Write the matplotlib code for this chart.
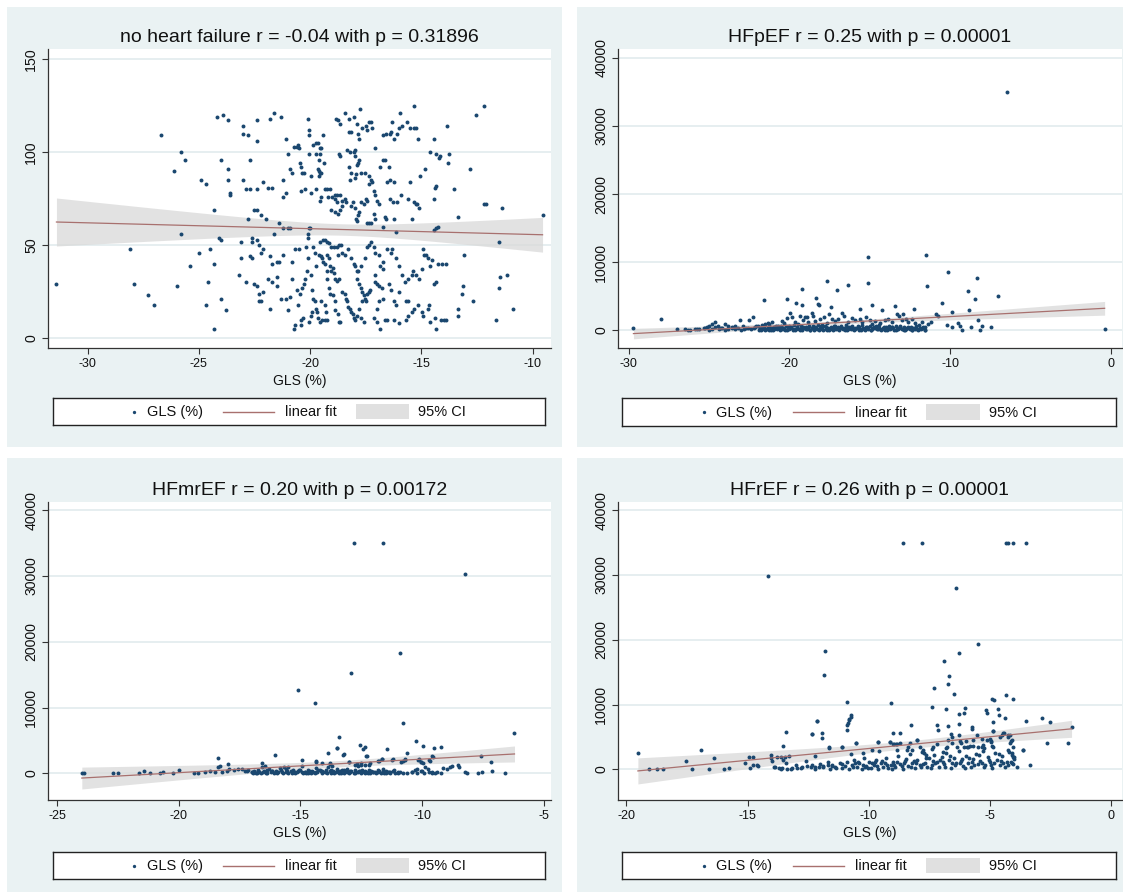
"""
GLS (%) versus NT-proBNP by heart failure group, four scatter panels
with a linear fit and its 95% confidence band (Stata look).
"""

import numpy as np
import matplotlib.pyplot as plt
from matplotlib.patches import Rectangle

plt.rcParams['font.family'] = ['Liberation Sans', 'DejaVu Sans']

BG = '#eaf2f3'
NAVY = '#1a476f'
FIT = '#a8706e'
CI = '#d9d9d9'

# ---- data: (GLS %, value) ----
nohf_pts = [
    (-31.4, 29), (-28.1, 48), (-27.9, 29), (-27.3, 23), (-27.0, 18), (-26.7, 109), (-26.1, 90),
    (-26.0, 28), (-25.8, 100), (-25.8, 56), (-25.6, 96), (-25.4, 39), (-25.0, 46), (-24.9, 85),
    (-24.7, 83), (-24.7, 18), (-24.6, 30), (-24.5, 48), (-24.3, 5), (-24.3, 69), (-24.3, 40),
    (-24.2, 119), (-24.1, 54), (-24.0, 96), (-24.0, 21), (-24.0, 53), (-23.8, 15), (-23.9, 120),
    (-23.7, 117), (-23.7, 91), (-23.7, 85), (-23.6, 77), (-23.6, 78),
    (-23.2, 34), (-23.1, 43), (-23.1, 52), (-23.0, 114), (-23.0, 85), (-23.0, 110), (-22.9, 30),
    (-22.9, 80), (-22.8, 64), (-22.8, 109), (-22.7, 96), (-22.7, 80), (-22.7, 44), (-22.6, 43),
    (-22.6, 52), (-22.6, 54), (-22.5, 69), (-22.5, 29), (-22.4, 28), (-22.4, 117), (-22.4, 80),
    (-22.4, 53), (-22.4, 106), (-22.4, 69), (-22.3, 24), (-22.3, 50), (-22.3, 20), (-22.2, 20),
    (-22.2, 46), (-22.2, 66), (-22.1, 25), (-22.1, 84), (-22.1, 48), (-22.0, 64), (-21.9, 32),
    (-21.9, 81), (-21.8, 118), (-21.8, 44), (-21.8, 16), (-21.7, 40), (-21.7, 30), (-21.7, 81),
    (-21.6, 121), (-21.6, 56), (-21.5, 33), (-21.5, 28), (-21.5, 41), (-21.4, 62), (-21.4, 41),
    (-21.3, 21), (-21.3, 119), (-21.2, 85), (-21.2, 59), (-21.2, 45), (-21.2, 76), (-21.1, 78),
    (-21.1, 21), (-21.1, 107), (-21.0, 59), (-21.0, 99), (-21.0, 15), (-20.9, 59), (-20.9, 91),
    (-20.9, 22), (-20.8, 32), (-20.8, 41), (-20.8, 89), (-20.7, 103), (-20.7, 5), (-20.6, 103),
    (-20.6, 26), (-20.5, 102),
    (-20.09, 118), (-20.06, 112), (-20.03, 109), (-20.55, 104), (-20.45, 94), (-20.42, 92),
    (-20.37, 89), (-20.06, 99), (-19.88, 104), (-19.73, 105), (-19.64, 105), (-19.55, 102),
    (-19.49, 102), (-19.43, 109), (-19.73, 99), (-19.61, 96), (-19.55, 99), (-19.64, 91),
    (-19.61, 90), (-19.55, 89), (-19.49, 89), (-19.58, 87), (-19.37, 94), (-19.94, 87),
    (-20.27, 89), (-20.39, 79), (-20.21, 80), (-19.94, 78), (-19.73, 80), (-19.55, 74),
    (-19.49, 76), (-19.31, 80), (-19.22, 80), (-19.1, 80), (-19.19, 76), (-19.01, 76),
    (-18.89, 77), (-18.77, 77), (-18.65, 77),
    (-18.83, 118), (-18.74, 117), (-18.66, 115), (-18.41, 121), (-18.26, 118), (-18.03, 119),
    (-17.88, 115), (-17.76, 123), (-18.26, 111), (-18.14, 111), (-17.84, 110), (-17.78, 107),
    (-17.66, 113), (-17.48, 114), (-17.42, 112), (-17.33, 116), (-17.27, 116), (-17.21, 113),
    (-18.71, 99), (-18.65, 98), (-18.32, 101), (-18.2, 100), (-18.02, 100), (-17.96, 101),
    (-17.99, 98), (-17.81, 96), (-17.84, 94), (-17.87, 93), (-17.72, 89), (-17.54, 89),
    (-17.36, 87), (-18.26, 92), (-18.14, 89), (-17.93, 88), (-17.99, 86), (-18.2, 85),
    (-18.89, 75), (-18.77, 73), (-18.56, 74), (-18.44, 75), (-18.38, 73), (-18.56, 71),
    (-18.65, 69), (-18.74, 67), (-19.04, 69), (-18.89, 68),
    (-18.14, 71), (-17.96, 70), (-17.81, 68), (-17.84, 66), (-18.08, 73), (-17.72, 73),
    (-17.48, 75), (-17.42, 74), (-17.57, 72), (-17.06, 77), (-17.12, 79), (-17.21, 84),
    (-17.24, 85), (-17.33, 83), (-16.97, 74), (-16.91, 72),
    (-17.93, 64), (-17.87, 63), (-17.45, 62), (-17.33, 62), (-17.24, 62), (-17.12, 67),
    (-17.09, 64), (-16.64, 65), (-16.58, 64), (-16.7, 60),
    (-17.06, 102), (-16.85, 92), (-16.7, 96), (-16.61, 96), (-16.46, 92),
    (-16.7, 109), (-16.58, 110), (-16.42, 110), (-16.36, 111), (-16.3, 116), (-16.21, 107),
    (-16.09, 110), (-16.0, 113), (-15.94, 121), (-15.85, 114), (-15.64, 116), (-15.49, 113),
    (-15.33, 113), (-15.31, 125), (-15.22, 113), (-15.13, 107),
    (-16.53, 84), (-16.42, 85), (-16.21, 84), (-15.91, 77), (-16.39, 75), (-16.27, 73),
    (-16.09, 73), (-16.15, 57), (-16.21, 64), (-15.52, 84), (-15.43, 64), (-15.58, 75),
    (-15.31, 73), (-15.22, 72), (-15.19, 72), (-15.1, 70), (-15.04, 87), (-14.83, 91),
    (-14.62, 100), (-14.41, 107), (-14.35, 99), (-14.2, 97), (-14.17, 98), (-13.83, 114),
    (-13.75, 99), (-13.81, 94), (-14.35, 82), (-14.38, 81), (-14.41, 75), (-14.44, 58),
    (-14.35, 59), (-14.26, 60),
    (-20.66, 48), (-20.48, 48), (-20.18, 49), (-20.06, 59), (-20.0, 59), (-20.09, 56),
    (-20.09, 54), (-20.09, 43), (-20.12, 36), (-20.21, 32), (-20.27, 29), (-20.36, 27),
    (-20.45, 24), (-20.54, 18), (-19.88, 49), (-19.76, 46), (-19.73, 39), (-19.97, 34),
    (-19.91, 26), (-19.58, 45), (-19.52, 44), (-19.46, 43), (-19.4, 41), (-19.34, 40),
    (-19.25, 45), (-19.16, 43), (-19.1, 39), (-19.04, 36), (-18.98, 38), (-18.92, 35),
    (-18.86, 32), (-18.8, 31), (-18.71, 32), (-19.22, 36), (-19.25, 32),
    (-19.55, 52), (-19.43, 53), (-19.34, 53), (-19.22, 52), (-19.16, 51),
    (-19.04, 49), (-18.92, 49), (-18.8, 49), (-18.68, 50), (-18.59, 50), (-18.74, 45),
    (-18.56, 46), (-18.41, 45), (-18.29, 48),
    (-19.52, 20), (-19.31, 18), (-19.28, 14), (-19.16, 27), (-19.1, 24), (-18.98, 23),
    (-18.89, 20), (-18.86, 15), (-18.74, 13), (-18.71, 9), (-18.65, 9),
    (-18.56, 25), (-18.44, 24), (-18.38, 21), (-18.32, 20), (-18.29, 17), (-18.2, 16),
    (-18.14, 14), (-18.08, 13), (-18.02, 11), (-17.96, 10),
    (-19.85, 21), (-19.79, 20), (-19.73, 16), (-19.67, 14), (-19.64, 11), (-19.55, 9),
    (-19.46, 10), (-19.34, 10), (-19.25, 10), (-19.91, 14), (-19.97, 12), (-20.06, 9),
    (-20.33, 11), (-20.42, 10), (-20.39, 7), (-20.66, 7),
    (-17.84, 36), (-17.9, 32), (-17.78, 29), (-17.72, 27), (-17.66, 25), (-17.57, 23),
    (-17.51, 21), (-17.45, 24), (-17.36, 25), (-17.3, 26), (-17.48, 20), (-17.66, 20),
    (-17.81, 16), (-17.87, 12), (-17.72, 11), (-17.57, 9),
    (-18.14, 43), (-18.02, 40), (-17.96, 39), (-17.87, 36), (-17.72, 39), (-17.54, 43),
    (-17.42, 49), (-17.33, 50), (-17.24, 52), (-17.12, 49),
    (-17.06, 46), (-16.91, 45), (-16.85, 39), (-16.73, 37), (-16.7, 41), (-17.06, 34),
    (-17.09, 30), (-17.0, 29), (-16.88, 28), (-16.76, 27), (-16.7, 21), (-16.91, 20),
    (-16.97, 16), (-17.12, 11), (-16.97, 9), (-16.85, 5), (-16.64, 10), (-16.52, 10),
    (-16.24, 10), (-16.0, 8), (-15.7, 10), (-15.58, 12),
    (-16.52, 48), (-16.36, 46), (-16.3, 48), (-16.15, 43), (-16.0, 39), (-15.85, 34),
    (-15.73, 30), (-15.61, 32), (-15.43, 34), (-15.37, 36), (-15.25, 34), (-15.1, 32),
    (-14.98, 37), (-14.92, 48), (-14.86, 45), (-14.77, 45), (-14.68, 43), (-14.62, 39),
    (-14.53, 42), (-14.41, 29), (-14.35, 30), (-14.23, 40), (-14.08, 40), (-13.9, 40),
    (-16.46, 29), (-16.36, 26), (-16.21, 20), (-16.15, 18), (-16.0, 25), (-15.7, 20),
    (-15.61, 20), (-15.4, 14), (-15.34, 16), (-15.16, 18), (-14.98, 14), (-14.92, 12),
    (-14.71, 16), (-14.65, 18), (-14.62, 9), (-14.38, 11), (-14.35, 5), (-14.11, 10),
    (-13.99, 10), (-13.9, 10),
    (-13.36, 16), (-13.33, 12), (-13.15, 24), (-13.12, 28), (-13.06, 45), (-13.33, 65),
    (-13.51, 80), (-12.79, 91), (-12.67, 20), (-12.55, 120), (-12.16, 125), (-12.16, 72),
    (-12.07, 72), (-11.5, 52), (-11.38, 70), (-11.47, 33), (-11.5, 27), (-11.14, 34),
    (-10.87, 16), (-11.62, 10), (-9.55, 66),
]

hfpef_pts = [
    (-29.7, 400), (-28.0, 1720), (-27.0, 150), (-26.5, 150), (-26.3, 100), (-25.75, 250),
    (-26.2, 80), (-25.9, 200), (-25.6, 150), (-25.3, 300), (-25.0, 100), (-24.8, 250),
    (-24.6, 420), (-24.4, 180), (-24.2, 350), (-24.0, 90), (-23.8, 260), (-23.6, 480),
    (-23.4, 150), (-23.2, 320), (-23.0, 70), (-22.8, 240), (-22.6, 400), (-22.4, 130),
    (-22.2, 300), (-22.1, 560), (-21.9, 90),
    (-21.8, 310), (-21.7, 150), (-21.6, 480), (-21.5, 60), (-21.4, 260), (-21.3, 620),
    (-21.2, 140), (-21.1, 380), (-21.0, 90), (-20.9, 520), (-20.8, 230), (-20.7, 700),
    (-20.6, 110), (-20.5, 420), (-20.4, 280), (-20.3, 50), (-20.2, 600), (-20.1, 330),
    (-20.0, 170), (-19.9, 450), (-19.8, 80), (-19.7, 720), (-19.6, 260), (-19.5, 390),
    (-19.4, 130), (-19.3, 560), (-19.2, 40), (-19.1, 310), (-19.0, 480), (-18.9, 190),
    (-18.8, 650), (-18.7, 70), (-18.6, 350), (-18.5, 230), (-18.4, 510), (-18.3, 120),
    (-18.2, 780), (-18.1, 290), (-18.0, 430), (-17.9, 60), (-17.8, 600), (-17.7, 200),
    (-17.6, 370), (-17.5, 140), (-17.4, 520), (-17.3, 90), (-17.2, 690), (-17.1, 250),
    (-17.0, 410), (-16.9, 30), (-16.8, 560), (-16.7, 180), (-16.6, 340), (-16.5, 750),
    (-16.4, 110), (-16.3, 460), (-16.2, 220), (-16.1, 600), (-16.0, 70), (-15.9, 380),
    (-15.8, 270), (-15.7, 530), (-15.6, 150), (-15.5, 820), (-15.4, 320), (-15.3, 60),
    (-15.2, 480), (-15.1, 210), (-15.0, 640), (-14.9, 100), (-14.8, 400), (-14.7, 290),
    (-14.6, 560), (-14.5, 160), (-14.4, 720), (-14.3, 50), (-14.2, 350), (-14.1, 230),
    (-14.0, 500), (-13.9, 120), (-13.8, 650), (-13.7, 280), (-13.6, 420), (-13.5, 80),
    (-13.4, 580), (-13.3, 190), (-13.2, 330), (-13.1, 700), (-13.0, 140), (-12.9, 450),
    (-12.8, 60), (-12.7, 310), (-12.6, 520), (-12.5, 220), (-12.4, 90), (-12.3, 400),
    (-12.2, 160), (-12.1, 600), (-12.0, 40), (-11.9, 300), (-11.8, 180), (-11.7, 450),
    (-11.6, 100),
    (-21.75, 80), (-21.55, 220), (-21.35, 400), (-21.15, 30), (-20.95, 170), (-20.75, 330),
    (-20.55, 590), (-20.35, 200), (-20.15, 90), (-19.95, 300), (-19.75, 160), (-19.55, 540),
    (-19.35, 20), (-19.15, 420), (-18.95, 260), (-18.75, 110), (-18.55, 680), (-18.35, 380),
    (-18.15, 50), (-17.95, 240), (-17.75, 450), (-17.55, 100), (-17.35, 300), (-17.15, 580),
    (-16.95, 150), (-16.75, 390), (-16.55, 60), (-16.35, 250), (-16.15, 470), (-15.95, 130),
    (-15.75, 660), (-15.55, 40), (-15.35, 210), (-15.15, 360), (-14.95, 80), (-14.75, 540),
    (-14.55, 260), (-14.35, 130), (-14.15, 420), (-13.95, 20), (-13.75, 190), (-13.55, 330),
    (-13.35, 90), (-13.15, 480), (-12.95, 250), (-12.75, 140), (-12.55, 380), (-12.35, 30),
    (-12.15, 270), (-11.95, 130), (-11.75, 320), (-11.55, 60),
    (-21.65, 350), (-21.25, 50), (-20.85, 420), (-20.45, 150), (-20.05, 560), (-19.65, 60),
    (-19.25, 240), (-18.85, 400), (-18.45, 90), (-18.05, 560), (-17.65, 30), (-17.25, 200),
    (-16.85, 330), (-16.45, 500), (-16.05, 240), (-15.65, 100), (-15.25, 420), (-14.85, 190),
    (-14.45, 350), (-14.05, 70), (-13.65, 520), (-13.25, 260), (-12.85, 100), (-12.45, 470),
    (-12.05, 200), (-11.65, 380),
    (-25.28, 397), (-25.14, 495), (-24.99, 691), (-24.83, 887), (-24.62, 1230), (-24.45, 593),
    (-24.25, 397), (-24.0, 985), (-23.79, 593), (-23.58, 397), (-23.38, 593), (-23.07, 1475),
    (-22.86, 593), (-22.71, 397), (-22.49, 1475), (-22.28, 1965), (-22.13, 495), (-21.93, 593),
    (-21.72, 789), (-21.55, 985), (-21.35, 1083), (-21.26, 887), (-21.1, 1181), (-20.97, 495),
    (-20.85, 691), (-20.69, 397), (-20.48, 1377), (-20.31, 1083), (-20.17, 1769), (-19.96, 2553),
    (-19.86, 1965), (-19.65, 1230), (-19.48, 887), (-19.32, 2161), (-19.13, 1475), (-19.03, 1965),
    (-18.93, 1965), (-18.82, 1279), (-18.61, 2553), (-18.51, 2063), (-18.41, 1377), (-18.1, 1720),
    (-17.99, 789), (-17.83, 1965), (-17.68, 1083), (-17.54, 2455), (-17.37, 1720), (-17.17, 1377),
    (-17.0, 1720), (-16.75, 2553), (-16.59, 2063), (-16.34, 1230), (-16.13, 1769), (-15.92, 1475),
    (-15.61, 1720), (-15.47, 1230), (-15.26, 1965), (-14.99, 1475), (-14.89, 985), (-14.68, 1377),
    (-14.37, 1083), (-14.06, 1475), (-13.85, 1720), (-13.65, 1230), (-13.34, 2357), (-13.19, 2063),
    (-13.02, 1475), (-12.78, 1720), (-12.61, 1279), (-12.4, 1720), (-12.2, 1083), (-11.95, 740),
    (-11.78, 1181), (-11.58, 495), (-11.37, 887), (-11.2, 1230),
    (-15.13, 10690), (-11.51, 11030), (-10.12, 8580), (-8.32, 7750), (-17.64, 7260),
    (-15.09, 7010), (-16.33, 6620), (-17.06, 5980), (-11.47, 6570), (-19.23, 6080),
    (-8.88, 5790), (-7.02, 5050), (-8.43, 4560), (-21.61, 4415), (-20.16, 4560),
    (-19.58, 4070), (-19.23, 3680), (-18.34, 4760), (-18.24, 3925), (-18.15, 3700),
    (-17.41, 3435), (-15.61, 3190), (-14.84, 3730), (-14.26, 3040), (-13.43, 3530),
    (-12.92, 2455), (-12.25, 3190), (-10.5, 4070), (-9.92, 2650), (-8.84, 2945),
    (-8.3, 1475), (-10.9, 2355), (-10.74, 2160), (-9.5, 1080), (-9.4, 590), (-9.29, 100),
    (-8.71, 495), (-8.13, 100), (-8.0, 600), (-7.49, 495), (-10.2, 740), (-9.92, 500),
    (-6.5, 35000), (-0.4, 150),
]

hfmref_pts = [
    (-12.8, 35000), (-11.6, 35000), (-8.25, 30300), (-10.9, 18300), (-12.9, 15300),
    (-15.1, 12700), (-14.4, 10750), (-10.8, 7700), (-6.2, 6200),
    (-13.4, 5577), (-12.54, 4309), (-12.35, 4055), (-12.42, 3649), (-13.51, 3801),
    (-13.85, 3142), (-13.24, 2787), (-11.43, 3649), (-10.25, 4917), (-9.98, 4157),
    (-9.5, 3903), (-9.24, 3953), (-10.6, 3142), (-12.3, 2685), (-16.05, 2787),
    (-18.4, 2279), (-17.99, 1417), (-18.29, 1113), (-16.57, 1620), (-14.92, 2025),
    (-14.37, 1823), (-13.77, 1519), (-13.69, 1113), (-13.0, 1772), (-12.76, 1265),
    (-12.62, 1150), (-12.49, 1300), (-12.35, 1200), (-12.19, 1250), (-11.8, 1924),
    (-11.66, 2127), (-11.18, 2127), (-10.77, 1924), (-10.68, 2127), (-10.13, 2127),
    (-10.05, 1772), (-9.95, 1519), (-9.72, 2025), (-9.54, 2533), (-7.56, 2634),
    (-7.15, 1772), (-7.12, 403), (-6.6, 0), (-7.7, 0), (-7.52, 250),
    (-14.34, 1772), (-14.13, 1518), (-13.79, 1417), (-12.99, 1772), (-12.69, 1417),
    (-12.49, 1518), (-12.15, 1620), (-11.76, 1924), (-11.63, 2127), (-11.22, 2026),
    (-10.85, 1772), (-10.71, 2026), (-10.16, 2026), (-10.03, 1772), (-9.68, 1924),
    (-9.61, 2635), (-12.28, 2635), (-13.21, 2888), (-13.49, 3801),
    (-23.98, 100), (-23.88, 100), (-22.68, 100), (-22.48, 0), (-21.63, 0), (-21.44, 403),
    (-21.16, 100), (-20.77, 100), (-20.63, 250), (-20.25, 0), (-19.99, 505), (-19.36, 100),
    (-19.19, 100), (-18.92, 250), (-18.7, 403), (-18.51, 250), (-18.37, 910), (-18.23, 250),
    (-18.02, 403), (-17.93, 606), (-17.74, 505), (-17.55, 606), (-17.41, 606), (-17.28, 403),
    (-17.14, 505), (-17.0, 250), (-16.84, 100), (-16.73, 505), (-16.56, 910), (-16.46, 1113),
    (-16.35, 505), (-16.18, 403), (-16.02, 250), (-15.84, 758), (-15.69, 910), (-15.58, 606),
    (-15.49, 910), (-15.29, 505), (-15.2, 250), (-15.06, 505), (-14.92, 1113), (-14.8, 250),
    (-14.68, 505), (-14.54, 403), (-14.37, 758), (-14.26, 505), (-14.13, 403), (-13.96, 505),
    (-13.85, 910), (-13.74, 505), (-13.64, 403), (-13.51, 606), (-13.36, 403), (-13.22, 505),
    (-13.09, 606), (-12.95, 403), (-12.76, 505), (-12.62, 250), (-12.46, 505), (-12.35, 403),
    (-12.18, 505), (-12.01, 250), (-11.8, 505), (-11.6, 606), (-11.5, 403), (-11.32, 250),
    (-11.14, 505), (-10.98, 250), (-10.77, 0), (-10.43, 250), (-10.29, 505), (-10.19, 606),
    (-10.05, 403), (-9.88, 910), (-9.77, 606), (-9.61, 250), (-9.47, 100),
    (-9.13, 758), (-8.99, 606), (-8.86, 910), (-8.76, 1113), (-8.52, 1265), (-8.49, 910),
    (-8.24, 250), (-8.17, 100),
    (-17.2, 300), (-17.0, 150), (-16.9, 420), (-16.8, 80), (-16.7, 250), (-16.6, 30),
    (-16.5, 380), (-16.4, 120), (-16.3, 600), (-16.2, 200), (-16.1, 50), (-16.0, 320),
    (-15.9, 140), (-15.8, 450), (-15.7, 90), (-15.6, 260), (-15.5, 30), (-15.4, 380),
    (-15.3, 170), (-15.2, 60), (-15.1, 290), (-15.0, 480), (-14.9, 120), (-14.8, 220),
    (-14.7, 40), (-14.6, 350), (-14.5, 150), (-14.4, 80), (-14.3, 270), (-14.2, 520),
    (-14.1, 100), (-14.0, 200), (-13.9, 30), (-13.8, 410), (-13.7, 160), (-13.6, 60),
    (-13.5, 300), (-13.4, 120), (-13.3, 460), (-13.2, 20), (-13.1, 240), (-13.0, 110),
    (-12.9, 380), (-12.8, 70), (-12.7, 190), (-12.6, 310), (-12.5, 40), (-12.4, 150),
    (-12.3, 260), (-12.2, 80), (-12.1, 420), (-12.0, 130), (-11.9, 30), (-11.8, 220),
    (-11.7, 100), (-11.6, 350), (-11.5, 60), (-11.4, 180), (-11.3, 40), (-11.2, 290),
    (-11.1, 120), (-11.0, 30), (-10.9, 200), (-10.6, 80), (-10.4, 150), (-10.2, 20),
    (-10.0, 380), (-9.9, 120), (-9.7, 250), (-9.6, 40), (-9.4, 180), (-9.2, 60),
    (-16.95, 90), (-16.75, 350), (-16.55, 180), (-16.35, 40), (-16.15, 280), (-15.95, 60),
    (-15.75, 200), (-15.55, 340), (-15.35, 20), (-15.15, 160), (-14.95, 260), (-14.75, 90),
    (-14.55, 30), (-14.35, 180), (-14.15, 320), (-13.95, 140), (-13.75, 50), (-13.55, 230),
    (-13.35, 90), (-13.15, 380), (-12.95, 170), (-12.75, 30), (-12.55, 280), (-12.35, 110),
    (-12.15, 50), (-11.95, 190), (-11.75, 320), (-11.55, 20), (-11.35, 140),
]

hfref_pts = [
    (-8.6, 35000), (-7.8, 35000), (-4.36, 35000), (-4.26, 35000), (-4.04, 35000), (-3.52, 35000),
    (-14.15, 29900), (-6.4, 28000), (-5.5, 19400), (-11.8, 18200), (-6.3, 18000), (-6.9, 16800),
    (-11.85, 14600), (-6.7, 14400), (-6.75, 13100), (-7.3, 12500), (-6.5, 11600),
    (-4.91, 10800), (-4.82, 10750), (-4.36, 11484), (-4.04, 10866), (-9.08, 10196),
    (-10.88, 10454), (-10.74, 8393), (-10.74, 8032), (-10.81, 7620), (-10.88, 6848),
    (-10.91, 6074), (-12.14, 7466), (-11.94, 5559), (-11.94, 4787), (-12.35, 5405),
    (-13.41, 5765), (-13.52, 3602), (-14.79, 1850), (-7.4, 9681), (-6.81, 9269),
    (-6.03, 9423), (-6.06, 8651), (-6.3, 8600), (-5.73, 6486), (-5.76, 6178), (-5.18, 9166),
    (-5.14, 8651), (-4.66, 9320), (-4.63, 8445), (-4.38, 7878), (-4.86, 7363), (-4.89, 5920),
    (-4.86, 5850), (-4.48, 5560), (-4.16, 5302), (-4.18, 4014), (-4.11, 2211), (-4.04, 820),
    (-3.52, 7517), (-2.87, 7981), (-2.52, 7363), (-2.66, 4014), (-1.77, 4014), (-1.64, 6590),
    (-3.35, 665), (-3.63, 2984), (-7.2, 6848), (-7.16, 6074), (-6.72, 6693), (-6.61, 5456),
    (-6.3, 7003), (-6.28, 5302), (-6.2, 4117), (-6.58, 5044), (-8.27, 6796), (-8.99, 5663),
    (-8.71, 5560), (-9.12, 4271), (-8.99, 3911), (-8.86, 3911), (-8.71, 4014), (-8.3, 4014),
    (-9.63, 4271), (-10.54, 4014), (-11.11, 3396), (-11.66, 3345), (-9.88, 2984), (-8.01, 4529),
    (-7.4, 3087), (-6.83, 3241), (-6.72, 4529), (-6.0, 4323), (-5.89, 3500), (-5.69, 3602),
    (-5.48, 3500), (-5.34, 4632), (-5.31, 3757), (-5.23, 3241), (-5.0, 4632), (-4.96, 4271),
    (-4.93, 3602), (-4.52, 5302), (-4.27, 5044), (-4.11, 4529), (-4.27, 2984), (-4.11, 2468),
    (-4.0, 1953),
    (-12.21, 2061), (-11.62, 3400), (-11.11, 3400), (-10.74, 2370), (-10.52, 4018),
    (-10.22, 2576), (-9.64, 4275), (-9.56, 2885), (-9.12, 4275), (-8.96, 3915), (-8.82, 3915),
    (-8.85, 2988), (-8.43, 2988), (-8.37, 3400), (-8.23, 2988), (-8.0, 4533), (-7.88, 3400),
    (-7.78, 2988), (-7.72, 2473), (-7.64, 2215), (-7.36, 3400), (-7.2, 3915), (-6.92, 2731),
    (-6.79, 3400), (-6.58, 4121), (-6.37, 3400), (-6.24, 4430), (-6.07, 3503), (-5.96, 3400),
    (-5.82, 3606), (-5.69, 4533), (-5.55, 5306), (-5.34, 3400), (-5.14, 4533), (-4.97, 4430),
    (-4.86, 3400), (-4.59, 5048), (-4.42, 5563), (-4.24, 5306), (-4.15, 4430), (-4.04, 3503),
    (-3.63, 2988), (-12.12, 7520), (-12.34, 5460), (-10.84, 7108), (-10.8, 7726),
    (-19.52, 2468), (-19.08, 50), (-18.75, 50), (-18.49, 50), (-17.54, 1335), (-17.29, 100),
    (-16.91, 2984), (-16.57, 0), (-16.37, 1800), (-15.95, 0), (-15.76, 250),
    (-15.1, 1025), (-14.92, 1850), (-14.89, 150), (-14.79, 665), (-14.62, 665), (-14.55, 510),
    (-14.05, 2210), (-14.05, 1700), (-14.0, 1340), (-13.79, 1850), (-13.63, 1850),
    (-13.54, 1438), (-13.46, 1953), (-13.28, 2107),
    (-13.86, 407), (-13.72, 150), (-13.59, 253), (-13.38, 100), (-13.17, 200), (-12.97, 150),
    (-12.76, 300), (-12.56, 500), (-12.35, 600), (-12.21, 300), (-12.05, 407), (-11.87, 500),
    (-11.69, 665), (-11.53, 500), (-11.39, 407), (-11.11, 820),
    (-13.9, 300), (-13.6, 100), (-13.4, 900), (-13.2, 50), (-13.0, 600), (-12.8, 200),
    (-12.6, 1300), (-12.4, 400), (-12.2, 100), (-12.0, 800), (-11.9, 300), (-11.7, 1100),
    (-11.6, 50), (-11.5, 600), (-11.35, 250), (-11.2, 900), (-11.1, 150), (-11.0, 500),
    (-10.9, 1200), (-10.8, 80),
    (-10.7, 700), (-10.6, 1500), (-10.5, 300), (-10.4, 900), (-10.3, 100), (-10.2, 1800),
    (-10.1, 500), (-10.0, 1100), (-9.9, 200), (-9.8, 700), (-9.7, 1400), (-9.6, 50),
    (-9.5, 900), (-9.4, 400), (-9.3, 1700), (-9.2, 150), (-9.1, 600), (-9.0, 1200),
    (-8.9, 300), (-8.8, 2000), (-8.7, 800), (-8.6, 100), (-8.5, 1300), (-8.4, 500),
    (-8.3, 2300), (-8.2, 900), (-8.1, 200), (-8.0, 1500), (-7.9, 600), (-7.8, 2600),
    (-7.7, 1000), (-7.6, 300), (-7.5, 1800), (-7.4, 700), (-7.3, 2200), (-7.2, 1200),
    (-7.1, 400), (-7.0, 1900), (-6.9, 800), (-6.8, 2500), (-6.7, 1400), (-6.6, 200),
    (-6.5, 1700), (-6.4, 900), (-6.3, 2900), (-6.2, 1300), (-6.1, 500), (-6.0, 2100),
    (-5.9, 1000), (-5.8, 300), (-5.7, 1600), (-5.6, 2400), (-5.5, 800), (-5.4, 1300),
    (-5.3, 2800), (-5.2, 600), (-5.1, 1900), (-5.0, 1100), (-4.9, 200), (-4.8, 2500),
    (-4.7, 1500), (-4.6, 700), (-4.5, 2000), (-4.4, 400), (-4.3, 1200), (-4.2, 2700),
    (-4.1, 900), (-4.0, 1600), (-3.9, 300),
    (-10.65, 300), (-10.45, 1200), (-10.25, 600), (-10.05, 200), (-9.85, 1000), (-9.65, 500),
    (-9.45, 1300), (-9.25, 700), (-9.05, 100), (-8.85, 1100), (-8.65, 500), (-8.45, 1600),
    (-8.25, 300), (-8.05, 1000), (-7.85, 400), (-7.65, 1700), (-7.45, 200), (-7.25, 900),
    (-7.05, 1500), (-6.85, 300), (-6.65, 2000), (-6.45, 600), (-6.25, 1000), (-6.05, 250),
    (-5.85, 1800), (-5.65, 700), (-5.45, 2200), (-5.25, 400), (-5.05, 1500), (-4.85, 900),
    (-4.65, 2300), (-4.45, 1000), (-4.25, 600), (-4.05, 1900),
    (-10.55, 900), (-10.15, 300), (-9.75, 1100), (-9.35, 900), (-8.95, 700), (-8.55, 900),
    (-8.15, 1300), (-7.75, 800), (-7.35, 1300), (-6.95, 1100), (-6.55, 1000), (-6.15, 1600),
    (-5.75, 1200), (-5.35, 1000), (-4.95, 600), (-4.55, 1300), (-4.15, 1200),
]

titles = [
    "no heart failure r = -0.04 with p = 0.31896",
    "HFpEF r = 0.25 with p = 0.00001",
    "HFmrEF r = 0.20 with p = 0.00172",
    "HFrEF r = 0.26 with p = 0.00001",
]
panel_pts = [nohf_pts, hfpef_pts, hfmref_pts, hfref_pts]
x_ticks = [[-30, -25, -20, -15, -10], [-30, -20, -10, 0],
           [-25, -20, -15, -10, -5], [-20, -15, -10, -5, 0]]
y_ticks = [[0, 50, 100, 150], [0, 10000, 20000, 30000, 40000],
           [0, 10000, 20000, 30000, 40000], [0, 10000, 20000, 30000, 40000]]
x_lims = [(-31.78, -9.17), (-30.66, 0.68), (-25.37, -4.7), (-20.34, 0.44)]
y_lims = [(-5.2, 155.4), (-2600, 41300), (-4060, 41260), (-4740, 41280)]

W, H = 1123, 893
# pixel boxes: panel background, plot area, legend box (left, top, right, bottom)
bg_boxes = [(7, 7, 562, 447), (577, 7, 1123, 447), (7, 458, 562, 892), (577, 458, 1123, 892)]
ax_boxes = [(48, 49, 551, 348), (618, 49, 1122, 348), (48, 502, 551, 800), (618, 502, 1122, 800)]
lg_boxes = [(53, 398, 545, 425), (622, 398, 1116, 426), (53, 852, 545, 879), (622, 852, 1116, 879)]


def fig_rect(box):
    l, t, r, b = box
    return [l / W, 1 - b / H, (r - l) / W, (b - t) / H]


def fit_ci(x, y, xs):
    n = len(x)
    slope, icpt = np.polyfit(x, y, 1)
    resid = y - (icpt + slope * x)
    s = np.sqrt(np.sum(resid ** 2) / (n - 2))
    sxx = np.sum((x - x.mean()) ** 2)
    se = s * np.sqrt(1 / n + (xs - x.mean()) ** 2 / sxx)
    yhat = icpt + slope * xs
    return yhat, yhat - 1.96 * se, yhat + 1.96 * se


fig = plt.figure(figsize=(W / 100, H / 100), dpi=100)
fig.patch.set_facecolor('white')

for i in range(4):
    bl, bb, bw, bh = fig_rect(bg_boxes[i])
    fig.add_artist(Rectangle((bl, bb), bw, bh, transform=fig.transFigure,
                             facecolor=BG, edgecolor='none', zorder=-10))

    pts = np.array(panel_pts[i], dtype=float)
    x, y = pts[:, 0], pts[:, 1]
    xs = np.linspace(x.min(), x.max(), 100)
    yhat, lo, hi = fit_ci(x, y, xs)

    ax = fig.add_axes(fig_rect(ax_boxes[i]))
    ax.set_facecolor('white')
    ax.fill_between(xs, lo, hi, color=CI, alpha=0.75, lw=0, zorder=1)
    ax.scatter(x, y, s=8, color=NAVY, linewidths=0, zorder=2)
    ax.plot(xs, yhat, color=FIT, lw=0.9, zorder=3)

    ax.set_xlim(*x_lims[i])
    ax.set_ylim(*y_lims[i])
    ax.set_xticks(x_ticks[i], [str(v) for v in x_ticks[i]])
    ax.set_yticks(y_ticks[i], [str(v) for v in y_ticks[i]])
    ax.tick_params(axis='both', length=4, width=0.8, color='#333333',
                   labelcolor='#111111', pad=3)
    ax.tick_params(axis='x', labelsize=9)
    ax.tick_params(axis='y', labelsize=10.2)
    for lab in ax.get_yticklabels():
        lab.set_rotation(90)
        lab.set_va('center')
    ax.grid(axis='y', color='#e4edef', lw=1.3)
    ax.set_axisbelow(True)
    for side in ['top', 'right']:
        ax.spines[side].set_visible(False)
    for side in ['left', 'bottom']:
        ax.spines[side].set_color('#333333')
        ax.spines[side].set_linewidth(0.9)
    ax.set_xlabel('GLS (%)', fontsize=10, labelpad=3, color='#111111')
    ax.set_title(titles[i], fontsize=14, pad=5, color='#111111')

    # legend box drawn by hand so the marker key stays short like Stata's
    lg = fig.add_axes(fig_rect(lg_boxes[i]))
    lg.set_xlim(0, 1)
    lg.set_ylim(0, 1)
    lg.set_xticks([])
    lg.set_yticks([])
    for sp in lg.spines.values():
        sp.set_color('#222222')
        sp.set_linewidth(1)
    lg.plot([0.165], [0.5], 'o', ms=2.4, color=NAVY, mew=0)
    lg.text(0.191, 0.47, 'GLS (%)', fontsize=10.5, va='center', color='#111111')
    lg.plot([0.346, 0.449], [0.5, 0.5], color=FIT, lw=1)
    lg.text(0.472, 0.47, 'linear fit', fontsize=10.5, va='center', color='#111111')
    lg.add_patch(Rectangle((0.616, 0.22), 0.108, 0.56, facecolor='#e0e0e0', edgecolor='none'))
    lg.text(0.742, 0.47, '95% CI', fontsize=10.5, va='center', color='#111111')

fig.savefig('out.png', dpi=100)
